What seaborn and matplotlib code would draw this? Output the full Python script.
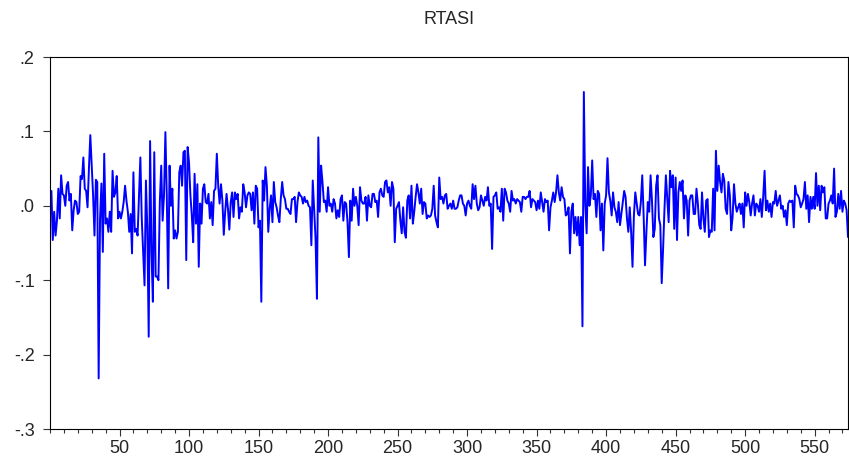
import numpy as np
import pandas as pd
import matplotlib
matplotlib.use('Agg')
import matplotlib.pyplot as plt
import seaborn as sns
from matplotlib.ticker import MultipleLocator, FuncFormatter

# RTASI returns, in chunks from left to right
seg_a = [0.020, -0.046, -0.008, -0.040, -0.020, 0.023, -0.017, 0.041, 0.016, 0.014,
         0.000, 0.027, 0.032, 0.007, 0.016, -0.033, -0.006, 0.007, 0.005, -0.011,
         -0.008, 0.040, 0.036, 0.065, 0.023, 0.020, -0.002, 0.050, 0.095, 0.054,
         0.014, -0.040, 0.035, 0.032, -0.232, -0.017, 0.030, -0.062, 0.070, -0.024,
         -0.017, -0.035, -0.008, -0.035, 0.047]
seg_b = [0.012, 0.018, 0.040, -0.017, -0.008, -0.017, -0.008, 0.005, 0.027, 0.007,
         -0.008, -0.035, -0.011, -0.064, 0.045, -0.035, -0.031, -0.040, 0.014, 0.065,
         -0.017, -0.062, -0.107, 0.034, -0.031, -0.176, 0.087, -0.062, -0.129, 0.072,
         -0.095, -0.095, -0.100, 0.005, 0.054, -0.020, 0.014, 0.099, 0.014, -0.111,
         0.054, 0.000, 0.023, -0.044, -0.033, -0.044, -0.035, 0.045, 0.054]
seg_c = [0.027, 0.072, 0.074, -0.073, 0.079, 0.058, 0.014, -0.013, -0.049, 0.043,
         -0.024, 0.029, -0.082, 0.003, -0.024, 0.023, 0.029, 0.005, 0.003, 0.016,
         -0.017, 0.005, -0.026, 0.020, 0.023, 0.070, 0.027, 0.003, 0.029, 0.007,
         -0.039, -0.008, 0.016, -0.004, -0.032, 0.005, 0.018, -0.015, 0.018, 0.009,
         0.016, -0.017, -0.002, -0.008, 0.029, 0.018, -0.002, 0.014]
seg_d = [0.018, 0.016, -0.006, 0.018, -0.024, 0.027, 0.023, -0.029, -0.020, -0.129,
         0.034, 0.007, 0.052, 0.027, -0.035, -0.004, 0.014, -0.022, 0.032, 0.005,
         -0.002, -0.013, -0.022, 0.009, 0.032, 0.014, 0.009, -0.004, -0.004, -0.008,
         -0.011, 0.009, 0.009, 0.012, -0.022, 0.005, 0.018, 0.014, 0.012, 0.003,
         0.012, 0.005, 0.007, 0.000, -0.002, -0.053, 0.034, -0.006]
seg_e = [-0.044, -0.125, 0.092, -0.008, 0.054, 0.032, 0.005, 0.007, -0.008, 0.025,
         0.000, 0.003, -0.008, 0.009, 0.003, -0.017, -0.006, -0.015, 0.009, 0.014,
         -0.020, 0.005, 0.003, -0.022, -0.069, 0.007, -0.020, 0.023, 0.000, 0.012,
         0.000, -0.026, 0.025, 0.007, 0.003, 0.003, 0.012, -0.020, 0.014, 0.000,
         -0.002, 0.016, 0.016, 0.005, 0.007, -0.015, 0.018, 0.023]
seg_f = [0.014, 0.012, 0.032, 0.034, 0.018, 0.025, 0.000, 0.032, 0.023, -0.049,
         -0.004, 0.000, 0.005, -0.020, -0.037, -0.002, -0.035, -0.043, 0.007, 0.014,
         -0.017, 0.027, -0.024, -0.008, 0.012, 0.029, 0.018, 0.003, 0.023, -0.011,
         0.005, 0.003, -0.017, -0.013, -0.015, -0.013, -0.004, 0.027, -0.013, -0.022,
         -0.029, 0.038, 0.009, 0.012, 0.003, 0.014, 0.016, -0.004]
seg_g = [0.000, 0.003, -0.004, 0.007, -0.004, -0.004, -0.002, 0.007, 0.014, 0.014,
         0.003, 0.000, -0.013, 0.003, 0.007, 0.000, -0.004, 0.029, 0.009, 0.027,
         0.003, -0.006, -0.002, 0.014, 0.007, 0.000, 0.012, 0.007, 0.025, 0.000,
         0.003, -0.058, 0.012, 0.014, 0.018, -0.004, -0.002, -0.008, 0.023, -0.020,
         0.023, 0.018, 0.007, 0.003, -0.008, 0.020, 0.007, 0.009]
seg_h = [0.003, 0.009, 0.007, 0.005, -0.008, 0.012, 0.012, 0.009, 0.012, 0.012,
         0.020, -0.002, 0.009, 0.007, 0.005, -0.006, 0.007, -0.004, 0.018, 0.005,
         -0.008, 0.009, 0.005, 0.007, -0.033, -0.002, 0.007, 0.018, 0.005, 0.018,
         0.041, 0.018, 0.007, 0.025, 0.012, 0.009, -0.013, -0.011, -0.002, -0.064,
         -0.008, 0.003, -0.037, -0.015, -0.040, -0.015, -0.053, -0.015, -0.162, 0.153,
         0.003, -0.037, 0.052, 0.000, 0.014, 0.061, 0.009, 0.016, -0.015, 0.020]
seg_i = [0.016, -0.033, 0.003, -0.060, 0.003, 0.014, 0.064, 0.018, 0.007, -0.013,
         0.018, -0.002, -0.008, -0.022, 0.005, -0.026, -0.011, 0.003, 0.020, 0.012,
         -0.017, -0.035, -0.002, -0.035, -0.082, -0.013, 0.018, 0.003, -0.011, -0.013,
         0.005, 0.041, -0.013, -0.080, -0.035, 0.005, -0.008, 0.041, 0.007, -0.042,
         -0.031, 0.027, 0.041, -0.017, -0.026, -0.104, -0.058, -0.004, 0.041, 0.009,
         -0.022, 0.047, 0.025, 0.041, -0.031, 0.038, -0.046, 0.018, 0.032, 0.020]
seg_j = [0.034, -0.017, 0.014, 0.007, -0.040, 0.007, 0.014, 0.014, -0.011, -0.011,
         0.023, 0.003, -0.026, -0.031, 0.018, -0.017, -0.035, 0.007, 0.009, -0.042,
         -0.033, -0.035, 0.023, -0.033, 0.074, 0.020, 0.054, 0.032, 0.018, 0.043,
         0.034, -0.004, -0.011, 0.032, 0.014, -0.033, -0.015, 0.029, 0.003, -0.008,
         -0.002, 0.003, -0.011, 0.003, -0.029, 0.018, 0.000, 0.016, 0.005, -0.013,
         0.003, 0.014, -0.013, 0.003, 0.000, -0.008, 0.009, -0.015, 0.012, 0.047]
seg_k = [-0.006, 0.007, -0.008, 0.003, -0.015, 0.005, 0.003, 0.020, 0.000, 0.007,
         0.014, -0.004, 0.000, -0.015, -0.006, -0.026, 0.003, 0.007, 0.005, 0.007,
         -0.029, 0.027, 0.016, 0.014, 0.009, -0.002, 0.003, 0.009, 0.032, -0.004,
         0.014, -0.022, 0.012, -0.004, 0.012, -0.004, 0.044, 0.000, 0.027, -0.006,
         0.027, 0.018, 0.025, -0.017, -0.017, 0.003, 0.007, 0.014, 0.003, 0.050,
         -0.015, -0.008, 0.016, -0.004, 0.020, -0.008, 0.007, 0.003, -0.006, -0.042]

rtasi = np.array(seg_a + seg_b + seg_c + seg_d + seg_e + seg_f +
                 seg_g + seg_h + seg_i + seg_j + seg_k)
obs = np.arange(1, len(rtasi) + 1)
df = pd.DataFrame({'obs': obs, 'RTASI': rtasi})

x_ticks = list(range(50, 551, 50))
y_ticks = [-0.3, -0.2, -0.1, 0.0, 0.1, 0.2]

sns.set_style('ticks')
plt.rcParams['font.family'] = ['Liberation Sans', 'DejaVu Sans']

fig = plt.figure(figsize=(8.49, 4.62), dpi=100)
ax = fig.add_axes([50 / 849, 1 - 429 / 462, 798 / 849, 372 / 462])

sns.lineplot(data=df, x='obs', y='RTASI', ax=ax, color='#0000FF', linewidth=1.4)

ax.set_xlim(0, len(rtasi))
ax.set_ylim(-0.3, 0.2)
ax.set_xticks(x_ticks)
ax.xaxis.set_minor_locator(MultipleLocator(10))
ax.set_yticks(y_ticks)

# EViews style labels: .2, .0, -.1
ax.yaxis.set_major_formatter(FuncFormatter(lambda v, p: f"{v:.1f}".replace('0.', '.')))

ax.tick_params(axis='both', which='major', labelsize=13, length=5, width=0.8, color='#333333')
ax.tick_params(axis='x', which='minor', length=3, width=0.8, color='#333333')
ax.tick_params(axis='y', pad=6)
ax.tick_params(axis='x', pad=3)
for s in ax.spines.values():
    s.set_visible(True)
    s.set_linewidth(0.8)
    s.set_color('black')

ax.set_xlabel('')
ax.set_ylabel('')
ax.set_title('RTASI', fontsize=13, pad=24)

fig.savefig('out.png', dpi=100)
